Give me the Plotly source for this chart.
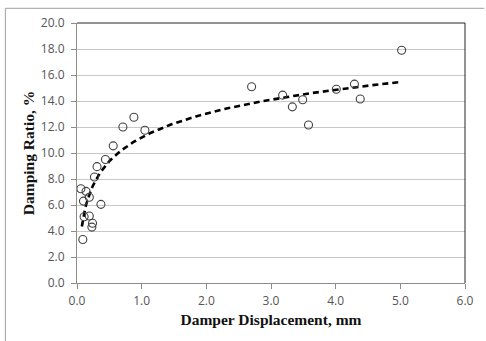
import numpy as np
import plotly.graph_objects as go

# Measured data: damper displacement (mm) vs damping ratio (%)
disp_mm = [0.06, 0.09, 0.10, 0.11, 0.14, 0.19, 0.19, 0.23, 0.24, 0.27, 0.31, 0.37,
           0.44, 0.56, 0.71, 0.88, 1.05, 2.70, 3.18, 3.33, 3.49, 3.58, 4.01, 4.29,
           4.38, 5.02]
damping_pct = [7.25, 3.35, 6.30, 5.10, 7.05, 6.60, 5.15, 4.30, 4.60, 8.15, 8.95, 6.05,
               9.50, 10.55, 12.00, 12.75, 11.75, 15.10, 14.45, 13.55, 14.10, 12.15, 14.90, 15.30,
               14.15, 17.90]

x_ticks = [0.0, 1.0, 2.0, 3.0, 4.0, 5.0, 6.0]
y_ticks = [0.0, 2.0, 4.0, 6.0, 8.0, 10.0, 12.0, 14.0, 16.0, 18.0, 20.0]

# Logarithmic trendline fitted to the data (as in the spreadsheet)
xa = np.array(disp_mm)
ya = np.array(damping_pct)
a, b = np.polyfit(np.log(xa), ya, 1)
trend_x = np.linspace(min(disp_mm) + 0.015, max(disp_mm), 200)
trend_y = a * np.log(trend_x) + b

fig = go.Figure()
fig.add_trace(go.Scatter(
    x=trend_x, y=trend_y, mode="lines",
    line=dict(color="black", width=2.6, dash="6px,4px"),
    hoverinfo="skip", showlegend=False))
fig.add_trace(go.Scatter(
    x=disp_mm, y=damping_pct, mode="markers",
    marker=dict(symbol="circle-open", size=8, color="#404040", line=dict(width=1.1, color="#404040")),
    showlegend=False))

axis_common = dict(
    zeroline=False, showline=True, linecolor="#8c8c8c", linewidth=1,
    ticks="outside", ticklen=5, tickcolor="#8c8c8c",
    tickfont=dict(family="Open Sans, Liberation Sans, sans-serif", size=12, color="#555555"),
)
title_font = dict(family="Liberation Serif, Times New Roman, serif", size=15.5, color="#111111")

fig.update_layout(
    width=486, height=341,
    margin=dict(l=77, r=19, t=23, b=58),
    paper_bgcolor="white", plot_bgcolor="white",
    xaxis=dict(range=[0, 6], tickvals=x_ticks, ticktext=[f"{v:.1f}" for v in x_ticks],
               showgrid=False, ticklabelstandoff=2,
               title=dict(text="<b>Damper Displacement, mm</b>", standoff=5, font=title_font),
               **axis_common),
    yaxis=dict(range=[0, 20], tickvals=y_ticks, ticktext=[f"{v:.1f}" for v in y_ticks],
               showgrid=True, gridcolor="#c8c8c8", gridwidth=1, ticklabelstandoff=4,
               title=dict(text="<b>Damping Ratio, %</b>", standoff=2, font=title_font),
               **axis_common),
    shapes=[
        # dark frame on top and right of plot area
        dict(type="line", xref="paper", yref="paper", x0=0, x1=1, y0=1, y1=1,
             line=dict(color="#262626", width=1)),
        dict(type="line", xref="paper", yref="paper", x0=1, x1=1, y0=0, y1=1,
             line=dict(color="#262626", width=1)),
        # outer image border (left and top)
        dict(type="line", xref="paper", yref="paper", x0=-0.1846, x1=1.05, y0=1.0565, y1=1.0565,
             line=dict(color="#a0a0a0", width=1)),
        dict(type="line", xref="paper", yref="paper", x0=-0.1846, x1=-0.1846, y0=1.0565, y1=-0.23,
             line=dict(color="#a0a0a0", width=1)),
    ],
)

fig.write_html("out.html")
